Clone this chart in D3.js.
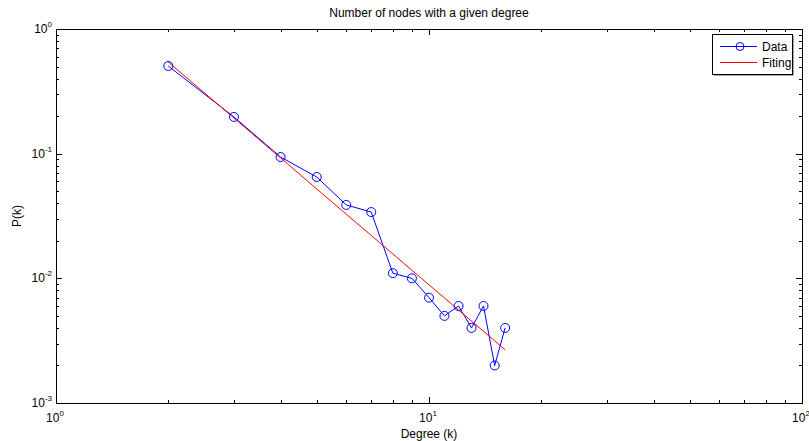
<!DOCTYPE html>
<html lang="en">
<head>
<meta charset="UTF-8">
<title>Number of nodes with a given degree</title>
<script src="https://d3js.org/d3.v7.min.js"></script>
<style>
  body { margin: 0; padding: 0; background: #fff; }
  svg { display: block; font-family: "Liberation Sans", Arial, sans-serif; }
  text { fill: #000; font-size: 12px; }
</style>
</head>
<body>
<svg width="809" height="441"></svg>
<script>
// data
const degrees = [2, 3, 4, 5, 6, 7, 8, 9, 10, 11, 12, 13, 14, 15, 16];
const probData = [0.505, 0.197, 0.094, 0.065, 0.0388, 0.034, 0.011, 0.010, 0.007, 0.005, 0.006, 0.004, 0.006, 0.002, 0.004];
const probFit = [0.543, 0.193, 0.0925, 0.0522, 0.0327, 0.0221, 0.0157, 0.0116, 0.00887, 0.00696, 0.00557, 0.00454, 0.00376, 0.00315, 0.00267];
const xDecades = [1, 10, 100];
const yDecades = [1, 0.1, 0.01, 0.001];
const seriesNames = ["Data", "Fiting"];

const svg = d3.select("svg");
const pLeft = 56, pRight = 802, pTop = 29, pBottom = 403;

const x = d3.scaleLog().domain([1, 100]).range([pLeft, pRight]);
const y = d3.scaleLog().domain([0.001, 1]).range([pBottom, pTop]);

// minor + major ticks
const xTicks = [], yTicks = [];
for (let d = 1; d < 100; d *= 10) for (let m = 1; m < 10; m++) xTicks.push({ v: d * m, major: m === 1 });
xTicks.push({ v: 100, major: true });
for (let d = 0.001; d < 0.999; d *= 10) for (let m = 1; m < 10; m++) yTicks.push({ v: d * m, major: m === 1 });
yTicks.push({ v: 1, major: true });

const tickG = svg.append("g").attr("stroke", "#000").attr("stroke-width", 1);
xTicks.forEach(t => {
  const px = Math.round(x(t.v)) + 0.5, len = t.major ? 6 : 3;
  tickG.append("line").attr("x1", px).attr("x2", px).attr("y1", pBottom).attr("y2", pBottom - len);
  tickG.append("line").attr("x1", px).attr("x2", px).attr("y1", pTop).attr("y2", pTop + len);
});
yTicks.forEach(t => {
  const py = Math.round(y(t.v)) + 0.5, len = t.major ? 6 : 3;
  tickG.append("line").attr("y1", py).attr("y2", py).attr("x1", pLeft).attr("x2", pLeft + len);
  tickG.append("line").attr("y1", py).attr("y2", py).attr("x1", pRight).attr("x2", pRight - len);
});

// box
svg.append("rect")
  .attr("x", pLeft + 0.5).attr("y", pTop + 0.5)
  .attr("width", pRight - pLeft).attr("height", pBottom - pTop)
  .attr("fill", "none").attr("stroke", "#000").attr("stroke-width", 1);

// tick labels 10^n
function powLabel(g, px, py, exp, anchor) {
  const t = g.append("text").attr("x", px).attr("y", py).attr("text-anchor", anchor);
  t.append("tspan").text("10");
  t.append("tspan").attr("dy", -6).attr("font-size", 8).text(exp);
}
xDecades.forEach(v => powLabel(svg, x(v) - 1, 422, Math.round(Math.log10(v)), "middle"));
yDecades.forEach(v => powLabel(svg, pLeft - 4, y(v) + 4, Math.round(Math.log10(v)), "end"));

// titles
svg.append("text").attr("x", x(10)).attr("y", 17).attr("text-anchor", "middle")
  .text("Number of nodes with a given degree");
svg.append("text").attr("x", x(10)).attr("y", 438).attr("text-anchor", "middle")
  .text("Degree (k)");
svg.append("text").attr("transform", `translate(21,${(pTop + pBottom) / 2}) rotate(-90)`)
  .attr("text-anchor", "middle").text("P(k)");

// series
const line = d3.line().x(d => x(d[0])).y(d => y(d[1]));
svg.append("path").datum(degrees.map((k, i) => [k, probData[i]]))
  .attr("d", line).attr("fill", "none").attr("stroke", "#0000ff").attr("stroke-width", 1);
svg.append("path").datum(degrees.map((k, i) => [k, probFit[i]]))
  .attr("d", line).attr("fill", "none").attr("stroke", "#ff0000").attr("stroke-width", 1);
svg.selectAll(".pt").data(degrees).enter().append("circle")
  .attr("cx", (k) => x(k)).attr("cy", (k, i) => y(probData[i])).attr("r", 4.5)
  .attr("fill", "none").attr("stroke", "#0000ff").attr("stroke-width", 1);

// legend
const lg = svg.append("g").attr("transform", "translate(712,34)");
lg.append("rect").attr("x", 1.5).attr("y", 1.5).attr("width", 80).attr("height", 40).attr("fill", "#555");
lg.append("rect").attr("x", 0.5).attr("y", 0.5).attr("width", 80).attr("height", 40)
  .attr("fill", "#fff").attr("stroke", "#000");
const colors = ["#0000ff", "#ff0000"];
seriesNames.forEach((n, i) => {
  const ly = 12.5 + i * 16;
  lg.append("line").attr("x1", 8).attr("x2", 45).attr("y1", ly).attr("y2", ly)
    .attr("stroke", colors[i]).attr("stroke-width", 1);
  if (i === 0) lg.append("circle").attr("cx", 28).attr("cy", ly).attr("r", 4)
    .attr("fill", "none").attr("stroke", colors[i]);
  lg.append("text").attr("x", 50).attr("y", ly + 4).text(n);
});
</script>
</body>
</html>
